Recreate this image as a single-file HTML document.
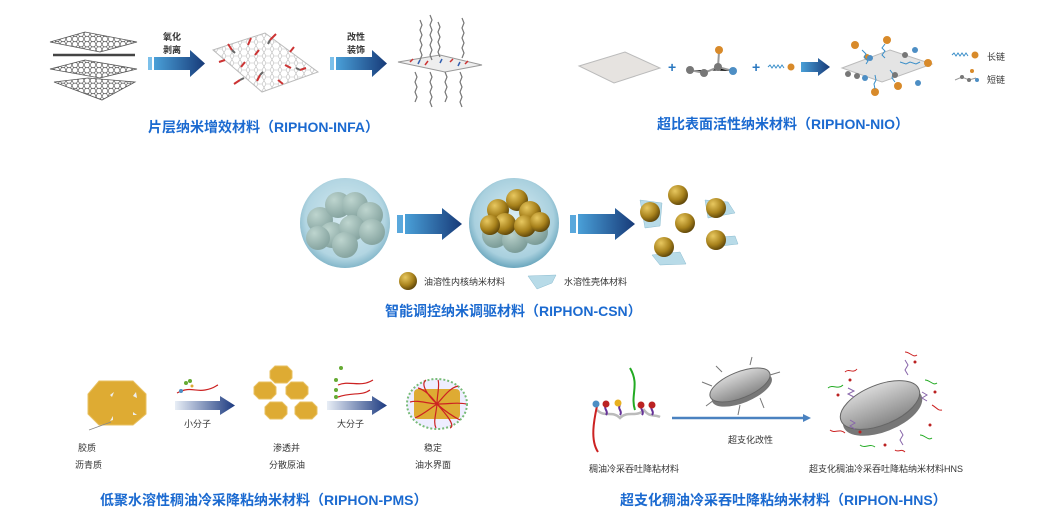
<!DOCTYPE html>
<html><head><meta charset="utf-8"><style>
body{margin:0;background:#fff;}
svg{display:block;font-family:"Liberation Sans","Noto Sans CJK SC",sans-serif;}
.t{font-size:14px;font-weight:bold;fill:#1b6ad0;}
.s{font-size:9px;fill:#333;}
</style></head><body>
<svg width="1056" height="529" viewBox="0 0 1056 529" xmlns="http://www.w3.org/2000/svg">
<defs>
<pattern id="hex" width="6" height="5.2" patternUnits="userSpaceOnUse"><path d="M0 2.6 L1.5 0 L4.5 0 L6 2.6 L4.5 5.2 L1.5 5.2 Z" fill="none" stroke="#444" stroke-width="0.6"/></pattern>
<pattern id="hexl" width="8" height="7" patternUnits="userSpaceOnUse"><path d="M0 3.5 L2 0 L6 0 L8 3.5 L6 7 L2 7 Z" fill="none" stroke="#bbb" stroke-width="0.6"/></pattern>
<linearGradient id="ar" x1="0" x2="1"><stop offset="0" stop-color="#4aa0d8"/><stop offset="1" stop-color="#173a78"/></linearGradient>
<linearGradient id="ar2" x1="0" x2="1"><stop offset="0" stop-color="#e8eef6"/><stop offset="1" stop-color="#1c3a80"/></linearGradient>
<radialGradient id="gold" cx="0.35" cy="0.3" r="0.75"><stop offset="0" stop-color="#e8c860"/><stop offset="0.6" stop-color="#a8821c"/><stop offset="1" stop-color="#5a4208"/></radialGradient>
<radialGradient id="bub" cx="0.5" cy="0.45" r="0.55"><stop offset="0" stop-color="#dbeef4"/><stop offset="0.8" stop-color="#a9d0de"/><stop offset="1" stop-color="#6aa6bd"/></radialGradient>
<radialGradient id="gr" cx="0.35" cy="0.3" r="0.7"><stop offset="0" stop-color="#b8cfc4"/><stop offset="1" stop-color="#6f8f87"/></radialGradient>
<linearGradient id="disc" x1="0" x2="0" y1="0" y2="1"><stop offset="0" stop-color="#d8d8d8"/><stop offset="1" stop-color="#888"/></linearGradient>
</defs>

<!-- Section 1 -->
<g stroke="#555" stroke-width="0.8">
<path d="M50 42 L85 32 L137 42 L100 52 Z" fill="url(#hex)"/>
<path d="M53 55 L135 55" stroke-width="2.5" stroke="#444"/>
<path d="M50 69 L85 60 L137 69 L100 78 Z" fill="url(#hex)"/>
<path d="M54 82 L88 78 L135 82 L102 100 Z" fill="url(#hex)"/>
</g>
<rect x="148" y="57" width="4" height="13" fill="#7cc0ea"/>
<path d="M154 57 H190 V50 L205 63.5 L190 77 V70 H154 Z" fill="url(#ar)"/>
<text x="163" y="40" class="s" font-weight="bold">氧化</text>
<text x="163" y="53" class="s" font-weight="bold">剥离</text>
<path d="M213 50 L265 33 L318 72 L262 92 Z" fill="url(#hexl)" stroke="#bbb"/>
<g stroke="#c33" stroke-width="2">
<path d="M232 50l-4-6M248 45l3-7M270 40l6-6M290 52l4-5M300 70l6-2M245 62l-4 5M260 75l-3 6M278 80l5 4M240 80l-6 4M285 65l6 3M225 60l-6 2M255 55l4-5"/>
</g>
<g stroke="#666" stroke-width="2"><path d="M232 50l3 3M270 40l-2 4M300 70l-4-2M260 75l3-3M240 80l4-2"/></g>
<rect x="330" y="57" width="4" height="13" fill="#7cc0ea"/>
<path d="M336 57 H372 V50 L387 63.5 L372 77 V70 H336 Z" fill="url(#ar)"/>
<text x="347" y="40" class="s" font-weight="bold">改性</text>
<text x="347" y="53" class="s" font-weight="bold">装饰</text>
<path d="M398 62 L440 55 L482 65 L445 72 Z" fill="#eee" stroke="#999"/>
<g stroke="#c33" stroke-width="1.5"><path d="M410 62l3-3M425 65l3-4M450 62l3-3M465 64l3-3"/></g>
<g stroke="#3360b0" stroke-width="1.5"><path d="M418 64l2-4M440 63l2-4M458 66l2-4"/></g>
<g fill="none" stroke="#777" stroke-width="1.2">
<path d="M420 20 l2 5 -2 5 2 5 -2 5 2 5 -2 5 2 5 -2 5"/>
<path d="M430 15 l2 5 -2 5 2 5 -2 5 2 5 -2 5 2 5 -2 5 2 5"/>
<path d="M438 22 l2 5 -2 5 2 5 -2 5 2 5 -2 5 2 5"/>
<path d="M462 18 l2 5 -2 5 2 5 -2 5 2 5 -2 5 2 5 -2 5"/>
<path d="M415 72 l2 5 -2 5 2 5 -2 5 2 5 -2 5"/>
<path d="M430 72 l2 5 -2 5 2 5 -2 5 2 5 -2 5 2 5"/>
<path d="M445 72 l2 5 -2 5 2 5 -2 5 2 5 -2 5"/>
<path d="M460 72 l2 5 -2 5 2 5 -2 5 2 5 -2 5 2 5"/>
</g>
<text x="148" y="132" class="t">片层纳米增效材料（RIPHON-INFA）</text>

<!-- Section 2 -->
<path d="M579 66 L625 52 L660 68 L614 83 Z" fill="#e6e3e0" stroke="#bbb"/>
<text x="668" y="72" font-size="14" fill="#2a78c0" font-weight="bold">+</text>
<g stroke="#999" stroke-width="2"><path d="M690 70 L704 73 L718 67 L733 71 M718 67 L719 52"/></g>
<circle cx="690" cy="70" r="4" fill="#777"/><circle cx="704" cy="73" r="4" fill="#777"/><circle cx="718" cy="67" r="4" fill="#777"/>
<circle cx="719" cy="50" r="4" fill="#d88a2a"/><circle cx="733" cy="71" r="4" fill="#4d8ec4"/>
<text x="752" y="72" font-size="14" fill="#2a78c0" font-weight="bold">+</text>
<path d="M768 67 l2 -2 2 3 2 -3 2 3 2 -3 2 3 2 -3 2 3" fill="none" stroke="#3b8fc9"/>
<circle cx="791" cy="67" r="3.5" fill="#d88a2a"/>
<path d="M801 62 H818 V58 L830 67 L818 76 V72 H801 Z" fill="url(#ar)"/>
<path d="M842 68 L890 50 L932 64 L882 82 Z" fill="#e4e4e4" stroke="#bbb"/>
<g fill="#d88a2a"><circle cx="855" cy="45" r="4"/><circle cx="887" cy="40" r="4"/><circle cx="928" cy="63" r="4"/><circle cx="875" cy="92" r="4"/><circle cx="898" cy="86" r="4"/><circle cx="867" cy="57" r="3"/></g>
<g fill="#4d8ec4"><circle cx="870" cy="58" r="3"/><circle cx="915" cy="50" r="3"/><circle cx="918" cy="83" r="3"/><circle cx="865" cy="78" r="3"/></g>
<g fill="none" stroke="#3b8fc9"><path d="M862 50 l4 4-2 3 4 4-2 3"/><path d="M885 44 l-3 4 3 3-3 4 3 3"/><path d="M900 62 l6 2 4-2 6 2 4-2"/><path d="M875 75 l1 5-2 4 1 5"/><path d="M890 70 l3 4-1 4 3 4"/></g>
<g fill="#777"><circle cx="848" cy="74" r="3"/><circle cx="857" cy="76" r="3"/><circle cx="905" cy="55" r="3"/><circle cx="895" cy="75" r="3"/></g>
<path d="M952 55 l2-2 2 3 2-3 2 3 2-3 2 3 2-3 2 3" fill="none" stroke="#3b8fc9"/><circle cx="975" cy="55" r="3.5" fill="#d88a2a"/>
<text x="987" y="60" class="s">长链</text>
<path d="M955 80 L962 77 L969 80 L976 78" stroke="#999" fill="none"/><circle cx="962" cy="77" r="2" fill="#777"/><circle cx="969" cy="80" r="2" fill="#777"/><circle cx="972" cy="71" r="2" fill="#d88a2a"/><circle cx="977" cy="80" r="2" fill="#4d8ec4"/>
<text x="987" y="83" class="s">短链</text>
<text x="657" y="129" class="t">超比表面活性纳米材料（RIPHON-NIO）</text>

<!-- Section 3 -->
<circle cx="345" cy="223" r="45" fill="url(#bub)"/>
<g fill="url(#gr)"><circle cx="320" cy="220" r="13"/><circle cx="338" cy="205" r="13"/><circle cx="355" cy="205" r="13"/><circle cx="370" cy="215" r="13"/><circle cx="332" cy="235" r="13"/><circle cx="352" cy="228" r="13"/><circle cx="372" cy="232" r="13"/><circle cx="345" cy="245" r="13"/><circle cx="318" cy="238" r="12"/></g>
<circle cx="345" cy="223" r="45" fill="#cfe7f0" opacity="0.25"/>
<rect x="397" y="215" width="6" height="18" fill="#5aa8dc"/>
<path d="M405 214 H442 V208 L462 224 L442 240 V234 H405 Z" fill="url(#ar)"/>
<circle cx="514" cy="223" r="45" fill="url(#bub)"/>
<g fill="url(#gr)" opacity="0.8"><circle cx="495" cy="235" r="13"/><circle cx="515" cy="240" r="13"/><circle cx="535" cy="232" r="13"/></g>
<g fill="url(#gold)"><circle cx="498" cy="210" r="11"/><circle cx="517" cy="200" r="11"/><circle cx="530" cy="212" r="11"/><circle cx="505" cy="224" r="11"/><circle cx="525" cy="226" r="11"/><circle cx="490" cy="225" r="10"/><circle cx="540" cy="222" r="10"/></g>
<rect x="570" y="215" width="6" height="18" fill="#5aa8dc"/>
<path d="M578 214 H615 V208 L635 224 L615 240 V234 H578 Z" fill="url(#ar)"/>
<g fill="#b8dbe8" stroke="#8bbcd0" stroke-width="0.5"><path d="M640 200 L662 203 L660 226 L645 228 Z"/><path d="M705 200 L728 202 L735 213 L708 218 Z"/><path d="M706 238 L735 236 L738 244 L712 247 Z"/><path d="M652 255 L680 252 L686 264 L660 265 Z"/></g>
<g fill="url(#gold)"><circle cx="650" cy="212" r="10"/><circle cx="678" cy="195" r="10"/><circle cx="685" cy="223" r="10"/><circle cx="664" cy="247" r="10"/><circle cx="716" cy="208" r="10"/><circle cx="716" cy="240" r="10"/></g>
<circle cx="408" cy="281" r="9" fill="url(#gold)"/>
<text x="424" y="285" class="s" font-size="8.5">油溶性内核纳米材料</text>
<path d="M528 276 L556 275 L552 283 L537 289 Z" fill="#b8dbe8" stroke="#8bbcd0" stroke-width="0.5"/>
<text x="564" y="285" class="s" font-size="8.5">水溶性壳体材料</text>
<text x="385" y="316" class="t">智能调控纳米调驱材料（RIPHON-CSN）</text>

<!-- Section 4 -->
<path d="M99 381 H133 L146 394 V414 L133 425 H99 L88 414 V394 Z" fill="#deab33" stroke="#e8c060"/>
<g fill="#eee"><path d="M110 395l4-3-2 5z"/><path d="M133 396l3-4 1 6z"/><path d="M133 412l4 3-4 0z"/><path d="M110 421l3-5 0 4z"/></g>
<path d="M89 430 L111 422" stroke="#888" stroke-width="0.8"/>
<path d="M177 393 C190 386 195 392 205 390 S215 386 218 385" fill="none" stroke="#c22" stroke-width="1.2"/>
<circle cx="181" cy="391" r="2" fill="#4d8ec4"/><circle cx="186" cy="383" r="2" fill="#6a3"/><circle cx="190" cy="381" r="2" fill="#6a3"/><circle cx="192" cy="386" r="1.5" fill="#da3"/>
<path d="M175 401 H220 V396 L235 405.5 L220 415 V410 H175 Z" fill="url(#ar2)"/>
<text x="184" y="427" class="s">小分子</text>
<g fill="#deab33" stroke="#e8c060"><path d="M275 366h12l5 5v7l-5 5h-12l-5-5v-7z"/><path d="M259 382h12l5 5v7l-5 5h-12l-5-5v-7z"/><path d="M291 382h12l5 5v7l-5 5h-12l-5-5v-7z"/><path d="M270 402h12l5 5v7l-5 5h-12l-5-5v-7z"/><path d="M300 402h12l5 5v7l-5 5h-12l-5-5v-7z"/></g>
<path d="M338 385 C350 380 360 388 373 380 M338 397 C352 392 362 396 370 390" fill="none" stroke="#c22" stroke-width="1.2"/>
<circle cx="336" cy="380" r="2" fill="#6a3"/><circle cx="336" cy="390" r="2" fill="#6a3"/><circle cx="336" cy="397" r="2" fill="#6a3"/><circle cx="341" cy="368" r="2" fill="#6a3"/>
<path d="M327 401 H372 V396 L387 405.5 L372 415 V410 H327 Z" fill="url(#ar2)"/>
<text x="337" y="427" class="s">大分子</text>
<ellipse cx="437" cy="404" rx="30" ry="25" fill="#eef" stroke="#7b7" stroke-dasharray="2 2" stroke-width="2"/>
<rect x="414" y="389" width="46" height="30" rx="4" fill="#deab33"/>
<g stroke="#c22" fill="none" stroke-width="1.2"><path d="M437 404 C430 395 425 390 418 388M437 404 C445 395 450 388 458 386M437 404 C428 410 422 415 415 418M437 404 C446 412 452 416 460 420M437 404 C437 395 440 385 438 380M437 404 C436 415 433 422 436 428M437 404 C425 403 418 400 410 402M437 404 C450 404 458 402 466 404M437 404 C428 396 420 384 426 380M437 404 C446 414 456 426 450 428"/></g>
<text x="78" y="451" class="s">胶质</text>
<text x="75" y="468" class="s">沥青质</text>
<text x="273" y="451" class="s">渗透并</text>
<text x="269" y="468" class="s">分散原油</text>
<text x="424" y="451" class="s">稳定</text>
<text x="415" y="468" class="s">油水界面</text>
<text x="100" y="505" class="t">低聚水溶性稠油冷采降粘纳米材料（RIPHON-PMS）</text>

<!-- Section 5 -->
<path d="M597 410 C605 418 612 410 620 418 C628 410 636 418 644 410 C650 418 655 414 660 417" fill="none" stroke="#bbb" stroke-width="2.5"/>
<path d="M597 406 C594 420 590 440 598 452" fill="none" stroke="#c22" stroke-width="2"/>
<path d="M635 410 C630 395 640 385 630 368" fill="none" stroke="#2a2" stroke-width="2"/>
<g fill="none" stroke="#639" stroke-width="2"><path d="M606 405 c-3 4 3 6 0 10"/><path d="M620 405 c-3 4 3 6 0 10"/><path d="M642 405 c-3 4 3 6 0 10"/><path d="M652 405 c-3 4 3 6 0 10"/></g>
<circle cx="596" cy="404" r="3.5" fill="#4d8ec4"/><circle cx="606" cy="404" r="3.5" fill="#b22"/><circle cx="618" cy="403" r="3.5" fill="#e8b020"/><circle cx="641" cy="405" r="3.5" fill="#b22"/><circle cx="652" cy="405" r="3.5" fill="#b22"/>
<path d="M672 418 H805" stroke="#4a82c0" stroke-width="2.5"/><path d="M803 414 L811 418 L803 422 Z" fill="#4a82c0"/>
<g transform="rotate(-22 740 385)"><ellipse cx="740" cy="390" rx="32" ry="13" fill="#777"/><ellipse cx="740" cy="385" rx="32" ry="13" fill="url(#disc)" stroke="#666"/></g>
<g stroke="#777" fill="none"><path d="M712 386l-10-4M714 400l-8 6M740 405l-2 10M760 398l4 10M770 375l10-3M750 365l2-8M722 372l-6-6"/></g>
<text x="728" y="443" class="s">超支化改性</text>
<g transform="rotate(-22 880 405)"><ellipse cx="880" cy="412" rx="42" ry="20" fill="#777"/><ellipse cx="880" cy="405" rx="42" ry="20" fill="url(#disc)" stroke="#666"/></g>
<g fill="none" stroke-width="1"><path d="M845 372 c4-4 8 2 12-3" stroke="#c22"/><path d="M828 388 c5-4 10 2 15-3" stroke="#2a2"/><path d="M830 430 c5 4 10-2 15 3" stroke="#c22"/><path d="M860 445 c5 4 10-2 15 2" stroke="#2a2"/><path d="M905 352 c5 0 8 6 12 3" stroke="#c22"/><path d="M925 380 c5 0 8 6 12 3" stroke="#2a2"/><path d="M920 435 c5 0 8 6 12 3" stroke="#2a2"/><path d="M895 450 c3 3 6-2 10 2" stroke="#c22"/><path d="M932 405 c4 2 6 6 10 5" stroke="#c22"/></g>
<g fill="none" stroke="#86a" stroke-width="1"><path d="M848 388 l6 3-6 3 6 3M905 360 l3 5-3 5 3 5M922 392 l5 3-5 3 5 3M900 430 l3 5-3 5 3 5M850 420 l5 3-5 3 5 3"/></g>
<g fill="#b22"><circle cx="838" cy="395" r="1.5"/><circle cx="850" cy="380" r="1.5"/><circle cx="915" cy="362" r="1.5"/><circle cx="935" cy="392" r="1.5"/><circle cx="930" cy="425" r="1.5"/><circle cx="860" cy="432" r="1.5"/><circle cx="885" cy="445" r="1.5"/></g>
<text x="589" y="472" class="s">稠油冷采吞吐降粘材料</text>
<text x="809" y="472" class="s">超支化稠油冷采吞吐降粘纳米材料HNS</text>
<text x="620" y="505" class="t">超支化稠油冷采吞吐降粘纳米材料（RIPHON-HNS）</text>
</svg>
</body></html>
